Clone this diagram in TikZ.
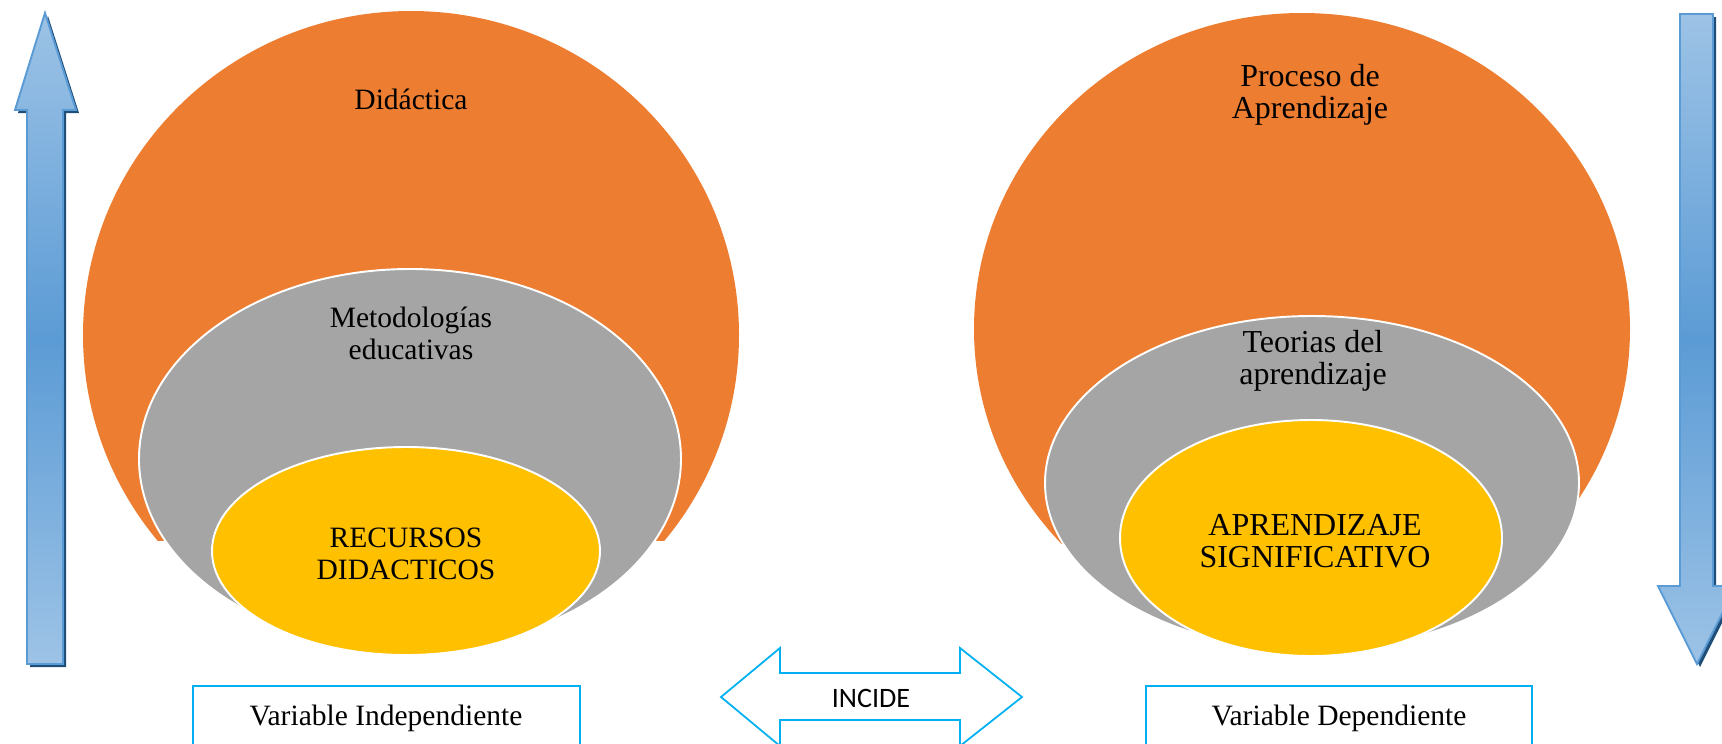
\documentclass[tikz,border=0pt]{standalone}
\usepackage{fontspec}
\setmainfont{Liberation Serif}
\newfontfamily\incfont{Carlito}
\usetikzlibrary{positioning}

\definecolor{blobOrange}{HTML}{ED7D31}
\definecolor{blobGray}{HTML}{A5A5A5}
\definecolor{blobYellow}{HTML}{FFC000}
\definecolor{lineCyan}{HTML}{00B0F0}
\definecolor{arrowLight}{HTML}{9DC3E6}
\definecolor{arrowMid}{HTML}{5B9BD5}
\definecolor{arrowDark}{HTML}{1F4E79}

\begin{document}
\begin{tikzpicture}[%
    x=0.02cm, y=-0.02cm,
    every node/.style={%
      font=\fontsize{16.8}{18.2}\selectfont,
      text=black,
      text centered,
      align=center
    },
    bigtext/.style={font=\fontsize{18.2}{18.4}\selectfont},
    blob/.style={draw=white, line width=1.1pt},
    varbox/.style={draw=lineCyan, line width=1pt, fill=white},
    bigarrow/.style={draw=arrowMid, line width=1.1pt,
      top color=arrowLight, bottom color=arrowLight, middle color=arrowMid},
    arrowshadow/.style={fill=arrowDark}
  ]
  \useasboundingbox (0,0) rectangle (1722,744);

  % Left side
  \begin{scope}
    \clip (-10,-10) rectangle (830,540);
    \fill[blobOrange] (411,335) ellipse [x radius=328, y radius=324];
  \end{scope}
  \filldraw[blob, fill=blobGray] (410,459) ellipse [x radius=271, y radius=190];
  \filldraw[blob, fill=blobYellow] (406,551) ellipse [x radius=194, y radius=104];
  \node (didactica) at (411,99) {Didáctica};
  \node (metodos) at (411,333) {Metodologías\\educativas};
  \node (recursos) at (406,554) {RECURSOS\\DIDACTICOS};

  % Right side
  \begin{scope}
    \clip (850,-10) rectangle (1660,543);
    \fill[blobOrange] (1302,329) ellipse [x radius=328, y radius=316];
  \end{scope}
  \filldraw[blob, fill=blobGray] (1312,483) ellipse [x radius=267, y radius=167];
  \filldraw[blob, fill=blobYellow] (1311,538) ellipse [x radius=191, y radius=118];
  \node[bigtext] (proceso) at (1310,95) {Proceso de\\Aprendizaje};
  \node[bigtext] (teorias) at (1313,361) {Teorias del\\aprendizaje};
  \node[bigtext] (signif) at (1315,541) {APRENDIZAJE\\SIGNIFICATIVO};

  % Vertical arrows
  \fill[arrowshadow, shift={(3,3)}]
    (45,13) -- (76,110) -- (63,110) -- (63,664) -- (27,664) -- (27,110) -- (15,110) -- cycle;
  \path[bigarrow]
    (45,13) -- (76,110) -- (63,110) -- (63,664) -- (27,664) -- (27,110) -- (15,110) -- cycle;
  \fill[arrowshadow, shift={(3,3)}]
    (1680,14) -- (1713,14) -- (1713,586) -- (1736,586) -- (1697,664) -- (1658,586) -- (1680,586) -- cycle;
  \path[bigarrow]
    (1680,14) -- (1713,14) -- (1713,586) -- (1736,586) -- (1697,664) -- (1658,586) -- (1680,586) -- cycle;

  % Variable boxes
  \draw[varbox] (193,686) rectangle (580,770);
  \node (indep) at (386,718) {Variable Independiente};
  \draw[varbox] (1146,686) rectangle (1532,770);
  \node (dep) at (1339,718) {Variable Dependiente};

  % Double arrow
  \draw[draw=lineCyan, line width=1pt, fill=white]
    (721,697) -- (780,648) -- (780,673) -- (960,673) -- (960,648) -- (1022,697)
    -- (960,746) -- (960,720) -- (780,720) -- (780,746) -- cycle;
  \node[font=\incfont\fontsize{16}{17}\selectfont] (incide) at (871,698) {INCIDE};

\end{tikzpicture}
\end{document}
